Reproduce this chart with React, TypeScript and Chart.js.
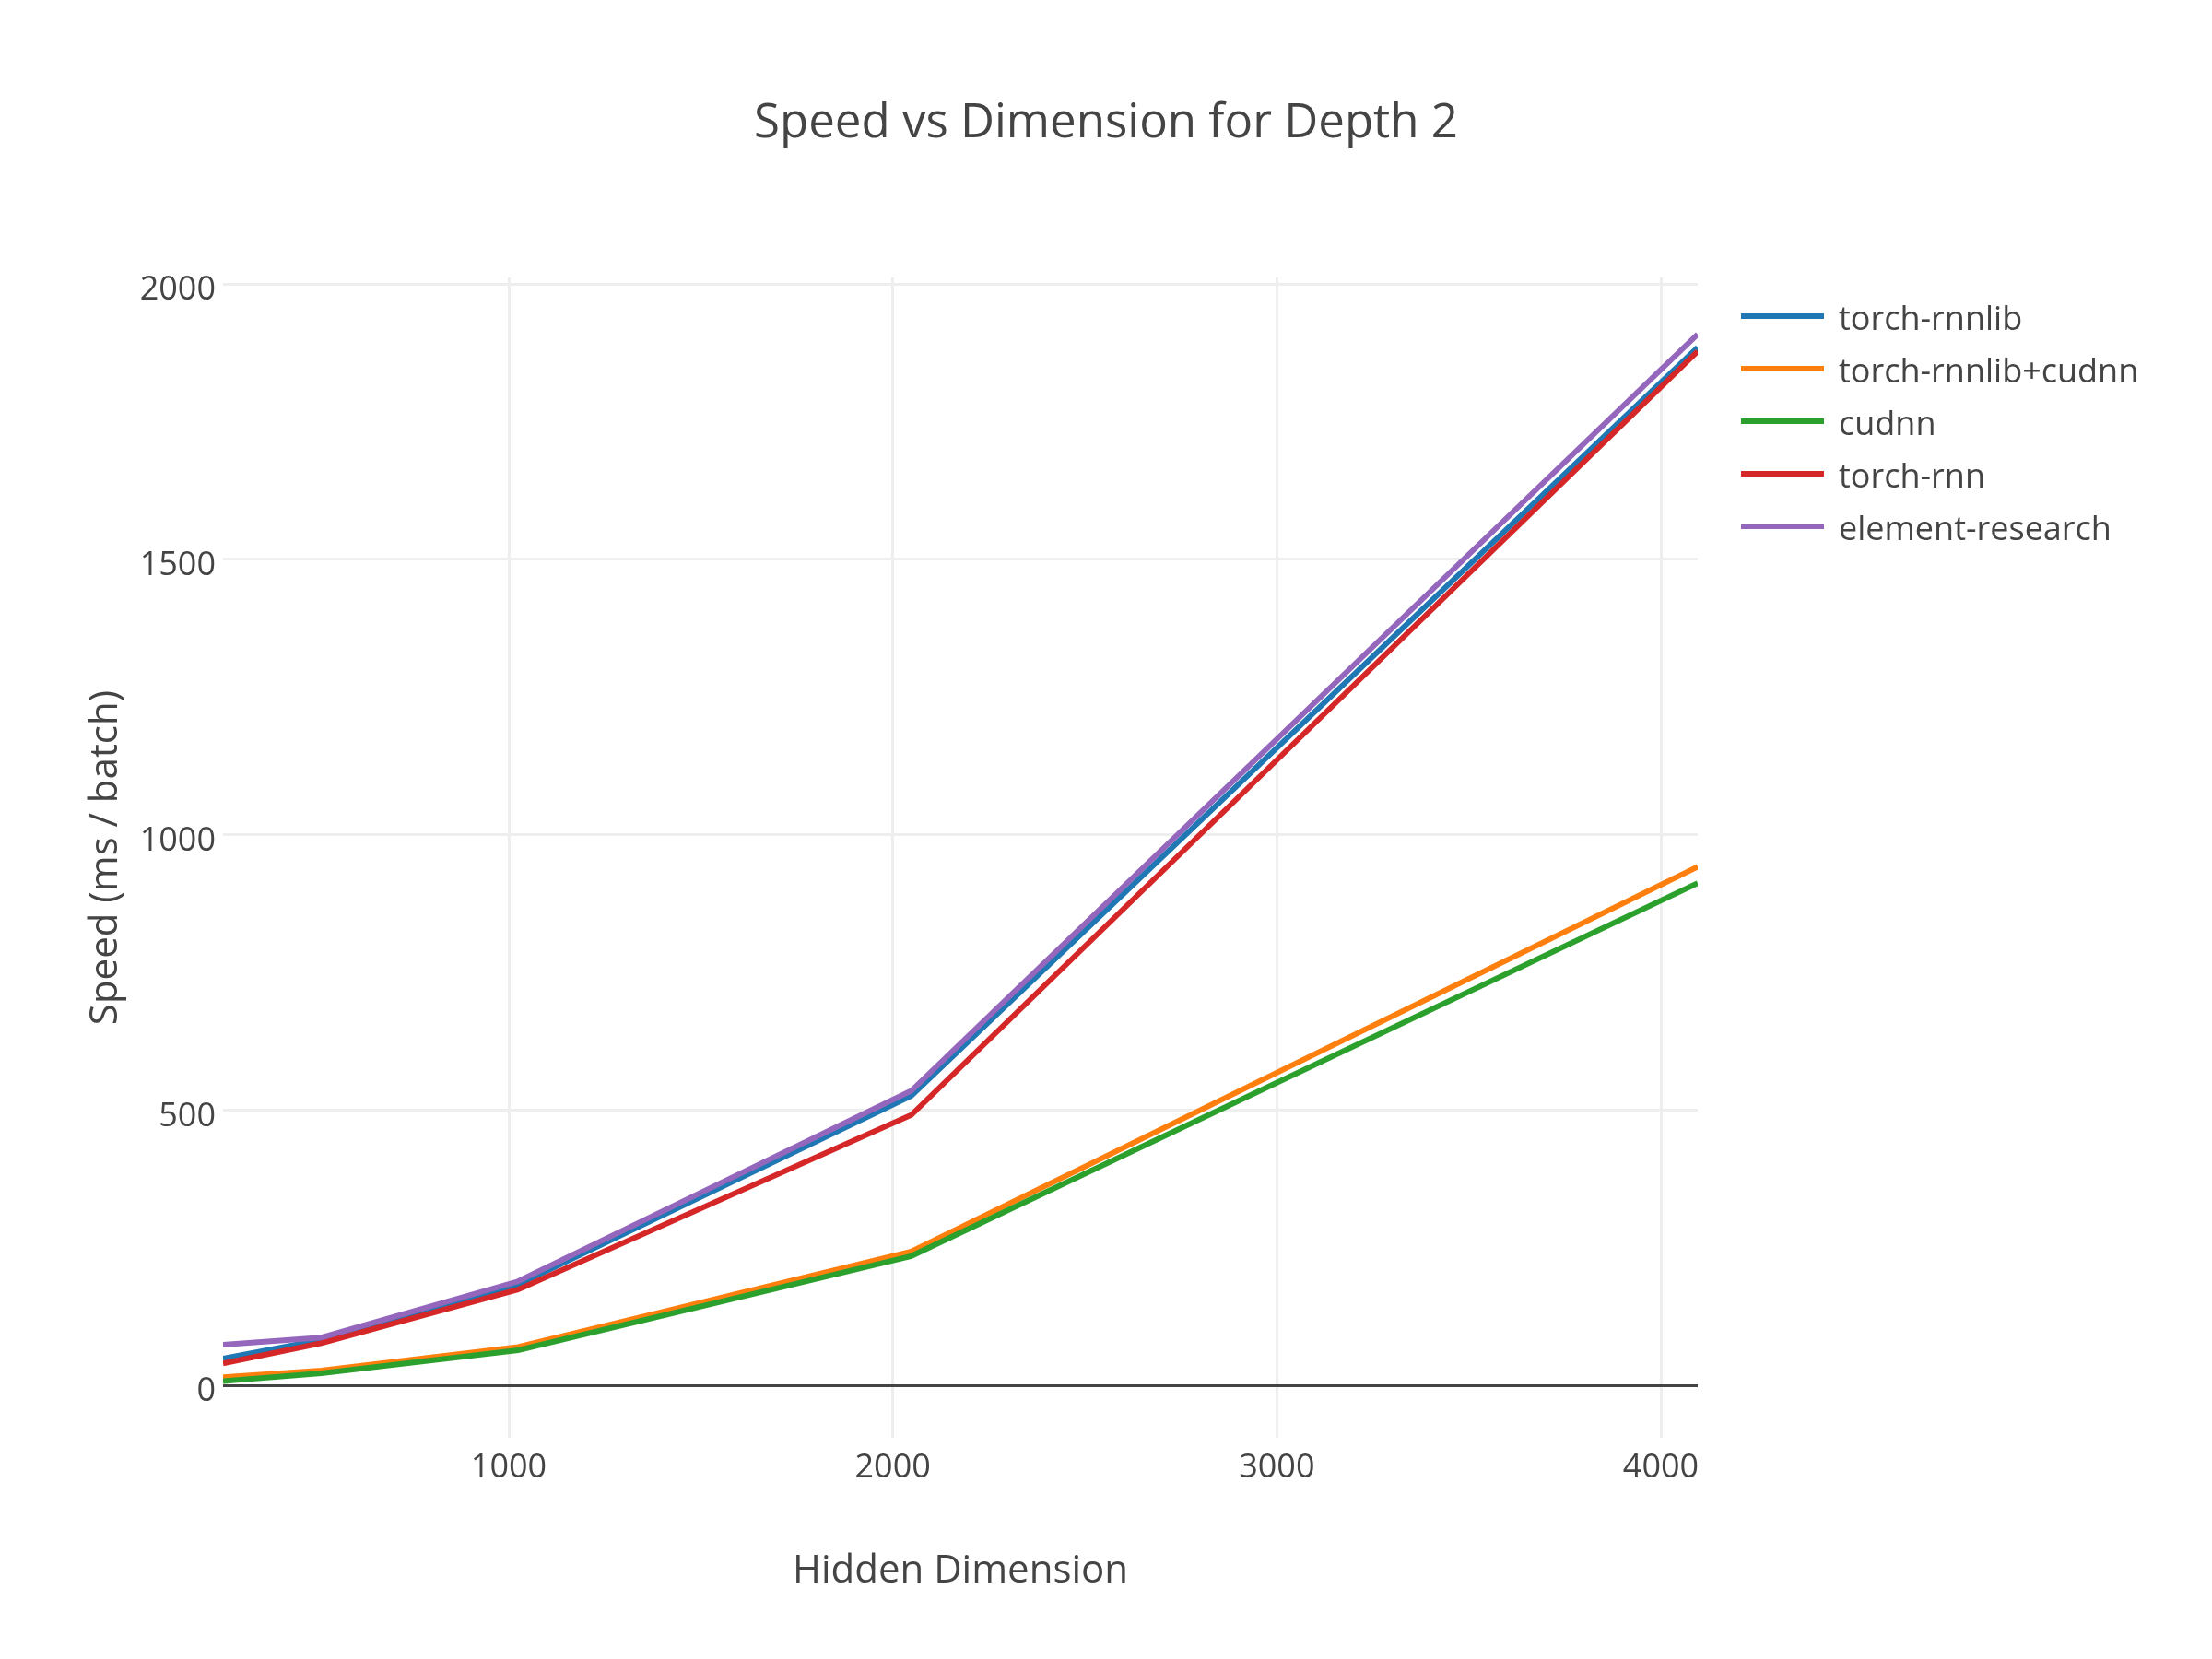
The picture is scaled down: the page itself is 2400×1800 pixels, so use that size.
import React, { useEffect, useRef } from 'react';
import Chart from 'chart.js/auto';

const hiddenDims = [256, 512, 1024, 2048, 4096];
const torchRnnlib = [49, 83, 183, 526, 1885];
const torchRnnlibCudnn = [15, 27, 70, 243, 942];
const cudnn = [8, 22, 64, 235, 912];
const torchRnn = [40, 77, 174, 491, 1878];
const elementResearch = [74, 87, 189, 535, 1909];

const seriesNames = ['torch-rnnlib', 'torch-rnnlib+cudnn', 'cudnn', 'torch-rnn', 'element-research'];
const seriesColors = ['#1f77b4', '#ff7f0e', '#2ca02c', '#d62728', '#9467bd'];
const xTicks = [1000, 2000, 3000, 4000];
const yTicks = [0, 500, 1000, 1500, 2000];

const chartTitle = 'Speed vs Dimension for Depth 2';
const FONT = '"Open Sans", sans-serif';
const TEXT = '#444';

// title + legend drawn by hand so they sit where plotly put them
const overlayPlugin = {
  id: 'overlay',
  afterDraw(chart: Chart) {
    const ctx = chart.ctx;
    ctx.save();
    ctx.fillStyle = TEXT;
    ctx.font = `51px ${FONT}`;
    ctx.textAlign = 'center';
    ctx.textBaseline = 'middle';
    ctx.fillText(chartTitle, 1200, 134);

    ctx.font = `36px ${FONT}`;
    ctx.textAlign = 'left';
    ctx.textBaseline = 'alphabetic';
    chart.data.datasets.forEach((ds: any, i: number) => {
      const y = 343 + i * 57;
      ctx.strokeStyle = ds.borderColor;
      ctx.lineWidth = 6;
      ctx.beginPath();
      ctx.moveTo(1889, y);
      ctx.lineTo(1979, y);
      ctx.stroke();
      ctx.fillStyle = TEXT;
      ctx.fillText(ds.label, 1995, y + 15);
    });
    ctx.restore();
  },
};

const App: React.FC = () => {
  const canvasRef = useRef<HTMLCanvasElement>(null);

  useEffect(() => {
    if (!canvasRef.current) return;
    const values = [torchRnnlib, torchRnnlibCudnn, cudnn, torchRnn, elementResearch];

    const chart = new Chart(canvasRef.current, {
      type: 'line',
      data: {
        datasets: values.map((vals, i) => ({
          label: seriesNames[i],
          data: hiddenDims.map((x, j) => ({ x, y: vals[j] })),
          borderColor: seriesColors[i],
          backgroundColor: seriesColors[i],
          borderWidth: 6,
          pointRadius: 0,
          tension: 0,
          order: 5 - i, // later traces on top, like plotly
        })),
      },
      options: {
        animation: false,
        responsive: false,
        devicePixelRatio: 1,
        layout: { padding: { top: 301, right: 558, left: 0, bottom: 0 } },
        plugins: {
          legend: { display: false },
          tooltip: { enabled: false },
        },
        scales: {
          x: {
            type: 'linear',
            min: 256,
            max: 4096,
            afterBuildTicks: (scale: any) => {
              scale.ticks = xTicks.map((v) => ({ value: v }));
            },
            afterFit: (scale: any) => {
              scale.height = 240;
            },
            border: { display: false },
            grid: { color: '#eeeeee', lineWidth: 3, drawTicks: false },
            ticks: {
              color: TEXT,
              font: { family: FONT, size: 36 },
              padding: 11,
              maxRotation: 0,
              callback: (v: any) => String(v),
            },
            title: {
              display: true,
              text: 'Hidden Dimension',
              color: TEXT,
              font: { family: FONT, size: 42 },
              padding: { top: 0, bottom: 70 },
            },
          },
          y: {
            type: 'linear',
            min: -95,
            max: 2012,
            afterBuildTicks: (scale: any) => {
              scale.ticks = yTicks.map((v) => ({ value: v }));
            },
            afterFit: (scale: any) => {
              scale.width = 242;
            },
            border: { display: false },
            grid: {
              color: (c: any) => (c.tick && c.tick.value === 0 ? '#444444' : '#eeeeee'),
              lineWidth: 3,
              drawTicks: false,
            },
            ticks: {
              color: TEXT,
              font: { family: FONT, size: 36 },
              padding: 8,
              labelOffset: 7,
              callback: (v: any) => String(v),
            },
            title: {
              display: true,
              text: 'Speed (ms / batch)',
              color: TEXT,
              font: { family: FONT, size: 42 },
              padding: { top: 90, bottom: 0 },
            },
          },
        },
      },
      plugins: [overlayPlugin],
    });

    return () => {
      chart.destroy();
    };
  }, []);

  return (
    <div style={{ position: 'absolute', left: 0, top: 0, width: 2400, height: 1800, background: '#fff' }}>
      <canvas ref={canvasRef} width={2400} height={1800} />
    </div>
  );
};

export default App;
